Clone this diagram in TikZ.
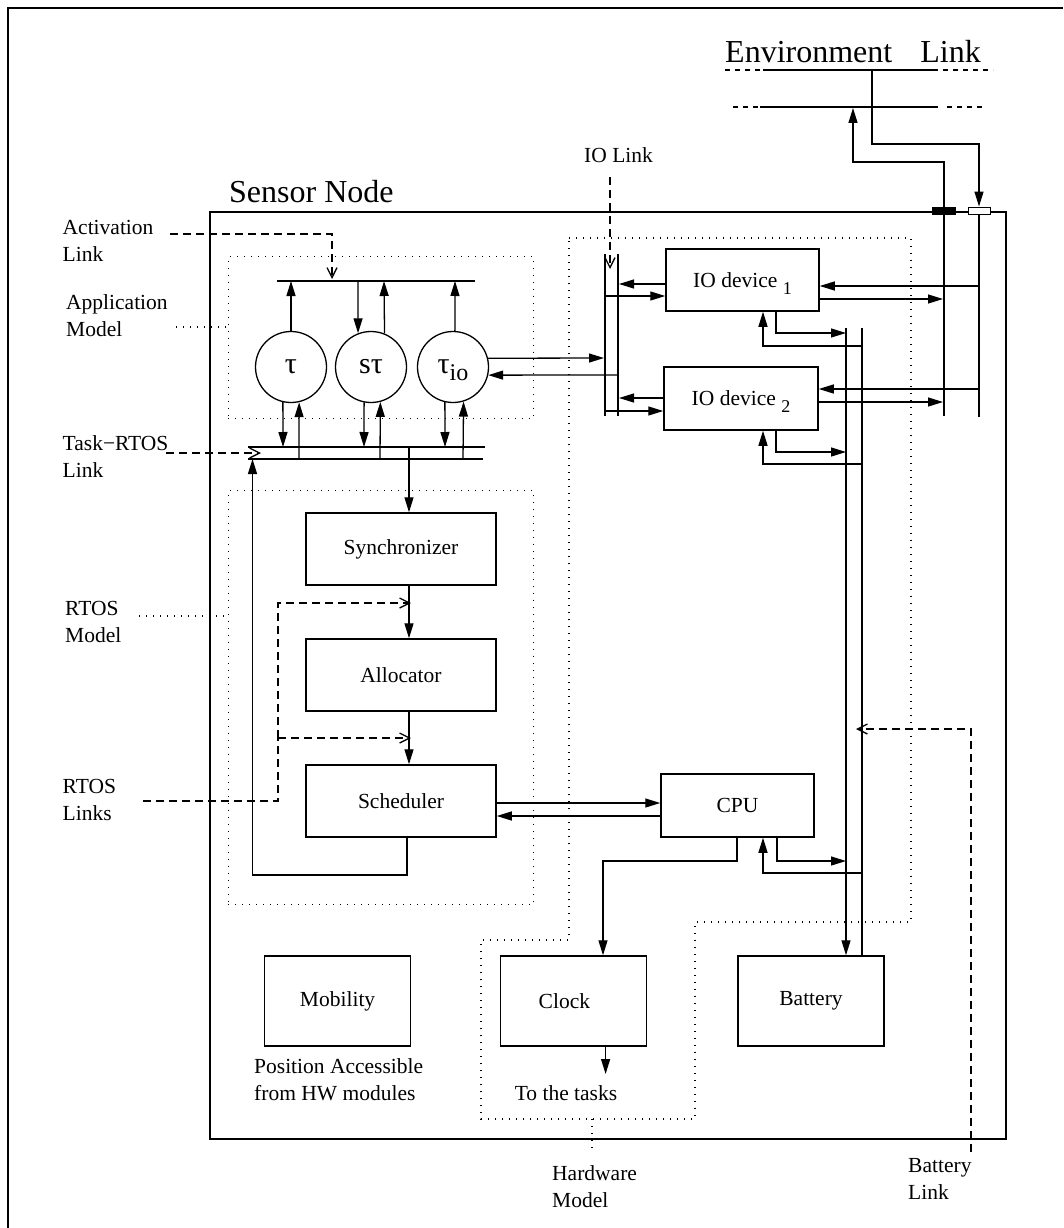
\documentclass[tikz,border=0pt]{standalone}
\usepackage{fontspec}
\setmainfont{Liberation Serif}
\usetikzlibrary{arrows.meta}
\tikzset{
  ln/.style={line width=1.3pt},
  arr/.style={ln, -{Triangle[length=15pt,width=9pt]}},
  oarr/.style={ln, dash pattern=on 8pt off 5pt, -{Straight Barb[length=10pt,width=10pt]}},
  dsh/.style={ln, dash pattern=on 8pt off 5pt},
  edsh/.style={ln, dash pattern=on 5pt off 5pt},
  dot/.style={line width=1.3pt, dash pattern=on 1.3pt off 5.7pt},
  dotbox/.style={draw, dot, inner sep=0pt, anchor=north west},
  blk/.style={draw, line width=1.5pt, inner sep=0pt, font=\fontsize{21.5}{27}\selectfont},
  lab/.style={inner sep=0pt, anchor=base west, font=\fontsize{21.5}{27}\selectfont},
  biglab/.style={inner sep=0pt, anchor=base west, font=\fontsize{32}{32}\selectfont},
  tcirc/.style={circle, draw, line width=1.3pt, minimum size=71pt, inner sep=0pt, font=\fontsize{30}{30}\selectfont},
  port/.style={draw, line width=1pt, minimum width=22pt, minimum height=7pt, inner sep=0pt},
}
\newcommand{\twol}[2]{\begin{tabular}[t]{@{}l@{}}#1\\#2\end{tabular}}
\newcommand{\lowsub}[1]{\raisebox{-7pt}[0pt][0pt]{\fontsize{18}{18}\selectfont #1}}
\begin{document}
\begin{tikzpicture}[x=1pt,y=-1pt]
\useasboundingbox (0,0) rectangle (1063,1228);
\draw[line width=2.5pt] (8,1228) -- (8,8) -- (1063,8);

% ---------- sensor node frame ----------
\node[draw, line width=1.5pt, minimum width=796pt, minimum height=927pt, inner sep=0pt, anchor=north west] (sn) at (209,211) {};
\node[biglab] (snl) at (229,202) {Sensor Node};

% ---------- environment link ----------
\node[biglab] (envl) at (725,63) {Environment\hspace{28pt}Link};
\draw[edsh] (725,70) -- (763,70);
\draw[ln] (763,70) -- (938,70);
\draw[edsh] (943,70) -- (993,70);
\draw[edsh] (733,107) -- (760,107);
\draw[ln] (760,107) -- (938,107);
\draw[edsh] (947,107) -- (983,107);
\coordinate (envup) at (872,70);
\coordinate (envlo) at (853,108);
\node[port, fill=black, minimum width=23pt] (br) at (944,210.5) {};
\node[port, fill=white] (wr) at (979,210.5) {};
\draw[arr] (envup) -- (872,144) -| (wr.north);
\draw[arr] (br.north) |- (853,162) -- (envlo);
\draw[ln] (br.south) -- (944,416);
\draw[ln] (wr.south) -- (979,417);

% ---------- application model ----------
\node[dotbox, minimum width=305.5pt, minimum height=162pt] (appm) at (227.5,256) {};
\node[tcirc] (t1) at (291,367) {τ};
\node[tcirc] (t2) at (371,367) {sτ};
\node[tcirc] (t3) at (453,367) {τ\lowsub{\fontsize{24}{24}\selectfont io}};
\draw[ln] (277,281) -- (475,281);
\draw[arr] (t1.north) -- (291,281);
\draw[arr] (358,281) -- (t2.111.5);
\draw[arr] (t2.68.5) -- (384,281);
\draw[arr] (t3.87) -- (455,281);

% task-RTOS link bars
\draw[ln] (248,447) -- (485,447);
\draw[ln] (248,459) -- (483,459);
\draw[arr] (t1.-103) -- (283,447);
\draw[arr] (299,459) -- (t1.-77);
\draw[arr] (t2.-101.4) -- (364,447);
\draw[arr] (380,459) -- (t2.-75.3);
\draw[arr] (t3.-103) -- (445,447);
\draw[arr] (463,459) -- (t3.-73.6);

% ---------- RTOS model ----------
\node[dotbox, minimum width=305.5pt, minimum height=414pt] (rtosm) at (227.5,490) {};
\node[blk, minimum width=190pt, minimum height=72pt] (sync) at (401,549) {Synchronizer};
\node[blk, minimum width=190pt, minimum height=72pt] (alloc) at (401,675) {Allocator};
\node[blk, minimum width=190pt, minimum height=72pt] (sched) at (401,801) {Scheduler};
\draw[arr] (409,447) -- (sync.north -| 409,0);
\draw[arr] (sync.south -| 409,0) -- (alloc.north -| 409,0);
\draw[arr] (alloc.south -| 409,0) -- (sched.north -| 409,0);
\draw[arr] (sched.south -| 407,0) -- (407,875) -- (252.5,875) -- (252.5,459);

% ---------- hardware model ----------
\draw[dot] (569,238) -- (911,238) -- (911,922) -- (695,922) -- (695,1119) -- (481,1119) -- (481,940) -- (569,940) -- cycle;
\coordinate (hwb) at (592,1119);
\node[blk, minimum width=153pt, minimum height=62pt] (io1) at (742.5,280) {IO device \lowsub{1}};
\node[blk, minimum width=154pt, minimum height=63pt] (io2) at (741,398.5) {IO device \lowsub{2}};
\node[blk, minimum width=153pt, minimum height=63pt] (cpu) at (737.5,805.5) {CPU};
\node[blk, minimum width=146pt, minimum height=90pt] (mob) at (337.6,1001) {Mobility};
\node[blk, minimum width=146pt, minimum height=90pt] (clock) at (573.4,1001) {Clock\hspace*{18pt}};
\node[blk, minimum width=146pt, minimum height=90pt] (batt) at (811,1001) {Battery};

% IO link bus
\draw[ln] (605,254) -- (605,416);
\draw[ln] (618,254) -- (618,416);
\draw[arr] (io1.west |- 0,284) -- (619,284);
\draw[arr] (605,296) -- (io1.west |- 0,296);
\draw[arr] (io2.west |- 0,398) -- (619,398);
\draw[arr] (605,411) -- (io2.west |- 0,411);
\draw[arr] (t3.14.7) -- (604,358);
\draw[arr] (618,375) -- (t3.-13);

% environment bus to IO devices
\draw[arr] (979,286) -- (io1.east |- 0,286);
\draw[arr] (io1.east |- 0,299) -- (943,299);
\draw[arr] (979,389) -- (io2.east |- 0,389);
\draw[arr] (io2.east |- 0,402) -- (943,402);

% power bus
\draw[arr] (846,328) -- (batt.north -| 846,0);
\draw[ln] (862,328) -- (batt.north -| 862,0);
\draw[arr] (io1.south -| 776,0) |- (846,333);
\draw[arr] (862,346) -| (io1.south -| 763,0);
\draw[arr] (io2.south -| 776,0) |- (846,452);
\draw[arr] (862,464) -| (io2.south -| 763,0);
\draw[arr] (cpu.south -| 777,0) |- (846,861);
\draw[arr] (862,873) -| (cpu.south -| 763,0);

% scheduler <-> CPU, CPU -> clock
\draw[arr] (sched.east |- 0,803) -- (cpu.west |- 0,803);
\draw[arr] (cpu.west |- 0,816) -- (sched.east |- 0,816);
\draw[arr] (cpu.south -| 737,0) |- (603,861) -- (clock.north -| 603,0);
\coordinate (tt) at (605.6,1074);
\draw[arr] (clock.south -| 605.6,0) -- (tt);

% ---------- labels ----------
\node[lab] (actl) at (62.5,234) {\twol{Activation}{Link}};
\draw[oarr] (170,234) -| (332,279);
\node[lab] (appl) at (66,309) {\twol{Application}{Model}};
\draw[dot] (176,327) -- (appm.west |- 0,327);
\node[lab] (trl) at (62.5,450) {\twol{Task−RTOS}{Link}};
\draw[oarr] (166,453) -- (261,453);
\node[lab] (rml) at (65,615) {\twol{RTOS}{Model}};
\draw[dot] (139,616) -- (rtosm.west |- 0,616);
\node[lab] (rll) at (62.5,793) {\twol{RTOS}{Links}};
\draw[dsh] (143,801) -- (278,801) -- (278,738);
\draw[oarr] (278,738) |- (411,603);
\draw[oarr] (278,738) -- (411,738);
\node[lab] (iol) at (584,162) {IO Link};
\draw[oarr] (610,177) -- (610,269);
\node[lab] (hwl) at (552,1180) {\twol{Hardware}{Model}};
\draw[dot] (hwb) -- (592,1150);
\node[lab] (btl) at (908,1172) {\twol{Battery}{Link}};
\draw[oarr] (971,1152) |- (856,729);
\node[lab, anchor=base] (tasks) at (566,1100) {To the tasks};
\node[lab] (posl) at (254,1073) {\twol{Position Accessible}{from HW modules}};
\end{tikzpicture}
\end{document}
